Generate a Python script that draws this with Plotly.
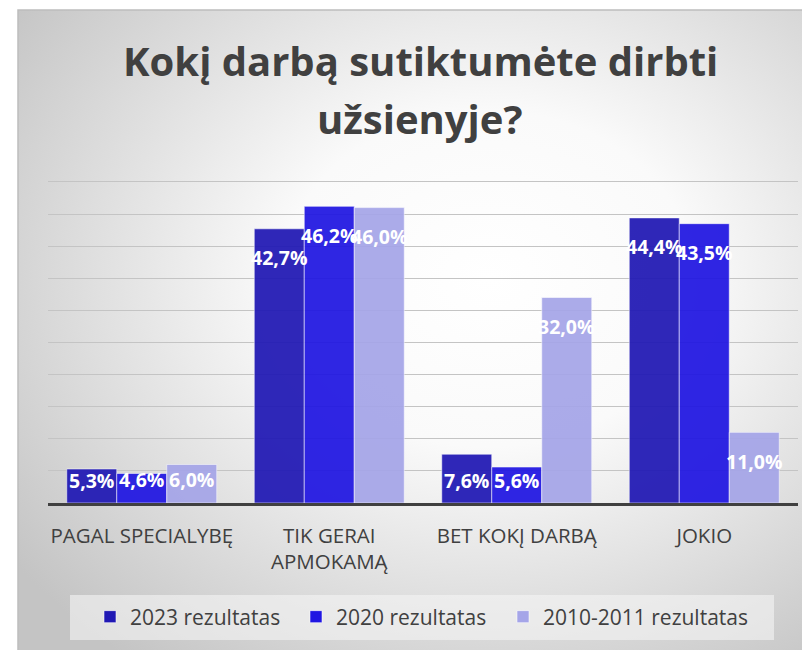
import base64
import plotly.graph_objects as go

categories = ["PAGAL SPECIALYBĘ", "TIK GERAI<br>APMOKAMĄ", "BET KOKĮ DARBĄ", "JOKIO"]
series_names = ["2023 rezultatas", "2020 rezultatas", "2010-2011 rezultatas"]
values_2023 = [5.3, 42.7, 7.6, 44.4]
values_2020 = [4.6, 46.2, 5.6, 43.5]
values_2010 = [6.0, 46.0, 32.0, 11.0]
label_2023 = ["5,3%", "42,7%", "7,6%", "44,4%"]
label_2020 = ["4,6%", "46,2%", "5,6%", "43,5%"]
label_2010 = ["6,0%", "46,0%", "32,0%", "11,0%"]
title_lines = ["Kokį darbą sutiktumėte dirbti", "užsienyje?"]

colors = ["rgb(32,24,180)", "rgb(32,22,226)", "rgb(165,165,232)"]
FONT = "Open Sans"

W, H = 802, 650
ML, MR, MT, MB = 48, 4, 180, 147
PW = W - ML - MR
PH = H - MT - MB
YMAX = 50.3


def px_x(px):
    return (px - ML) / PW


def px_y(py):
    return (H - MB - py) / PH


svg = '''<svg xmlns="http://www.w3.org/2000/svg" width="800" height="650" viewBox="0 0 800 650" preserveAspectRatio="none">
<defs><radialGradient id="g" cx="0.6" cy="0.42" r="0.75" fx="0.6" fy="0.42">
<stop offset="0" stop-color="#ffffff"/><stop offset="0.35" stop-color="#fafafa"/><stop offset="1" stop-color="#c4c4c4"/>
</radialGradient></defs>
<rect x="0" y="0" width="800" height="650" fill="url(#g)"/>
</svg>'''
src = "data:image/svg+xml;base64," + base64.b64encode(svg.encode()).decode()

legend_ids = ["legend", "legend2", "legend3"]
legend_px = [90, 296, 503]

fig = go.Figure()
all_vals = [values_2023, values_2020, values_2010]
all_labels = [label_2023, label_2020, label_2010]
for name, vals, col, lid in zip(series_names, all_vals, colors, legend_ids):
    fig.add_trace(go.Bar(
        x=categories, y=vals, name=name, legend=lid,
        marker=dict(color=col, opacity=0.93,
                    line=dict(color="rgba(255,255,255,0.55)", width=1)),
        hoverinfo="skip",
    ))

bar_px = PW / len(categories) * (1 - 0.2) / 3
ppu = PH / YMAX
annotations = []
for j, (vals, labs) in enumerate(zip(all_vals, all_labels)):
    for i, (v, lab) in enumerate(zip(vals, labs)):
        shift = -min(29, v * ppu - 23)
        annotations.append(dict(
            x=categories[i], y=v, xref="x", yref="y", text=lab,
            showarrow=False, xshift=(j - 1) * bar_px, yshift=shift,
            yanchor="middle", xanchor="center",
            font=dict(family=FONT, size=19.5, color="white", weight="bold"),
        ))

for k, line in enumerate(title_lines):
    annotations.append(dict(
        x=px_x(420), y=px_y(61 + 57 * k), xref="paper", yref="paper", text=line,
        showarrow=False, xanchor="center", yanchor="middle",
        font=dict(family=FONT, size=40, color="#404040", weight="bold"),
    ))

legend_common = dict(orientation="h", yanchor="middle", xanchor="left",
                     bgcolor="rgba(0,0,0,0)",
                     font=dict(family=FONT, size=21, color="#404040"), itemclick=False)
legends = {lid: dict(legend_common, x=px_x(lx), y=px_y(617))
           for lid, lx in zip(legend_ids, legend_px)}

fig.update_layout(
    width=W, height=H,
    margin=dict(l=ML, r=MR, t=MT, b=MB, pad=0),
    paper_bgcolor="white", plot_bgcolor="rgba(0,0,0,0)",
    barmode="group", bargap=0.2, bargroupgap=0,
    showlegend=True,
    **legends,
    annotations=annotations,
    images=[dict(source=src, xref="paper", yref="paper", x=px_x(18), y=px_y(10),
                 sizex=(W - 18) / PW, sizey=(H - 10) / PH, sizing="stretch",
                 xanchor="left", yanchor="top", layer="below")],
    shapes=[
        dict(type="rect", xref="paper", yref="paper", x0=px_x(18), x1=px_x(810),
             y0=px_y(660), y1=px_y(10), line=dict(color="#bdbdbd", width=1.5),
             fillcolor="rgba(0,0,0,0)", layer="below"),
        dict(type="rect", xref="paper", yref="paper", x0=px_x(70), x1=px_x(774),
             y0=px_y(640), y1=px_y(595), line=dict(width=0),
             fillcolor="rgba(245,245,245,0.6)", layer="below"),
    ],
    font=dict(family=FONT, color="#404040"),
)
fig.update_xaxes(showline=True, linecolor="#404040", linewidth=3, ticks="",
                 tickfont=dict(family=FONT, size=20.5, color="#404040"),
                 ticklabelstandoff=12, showgrid=False, fixedrange=True)
fig.update_yaxes(range=[0, YMAX], dtick=5, showgrid=True, gridcolor="#c4c4c4", gridwidth=1.3,
                 showticklabels=False, zeroline=False, ticks="", fixedrange=True)

fig.write_html("out.html", config={"displayModeBar": False},
               post_script="document.body.style.margin='0';")
